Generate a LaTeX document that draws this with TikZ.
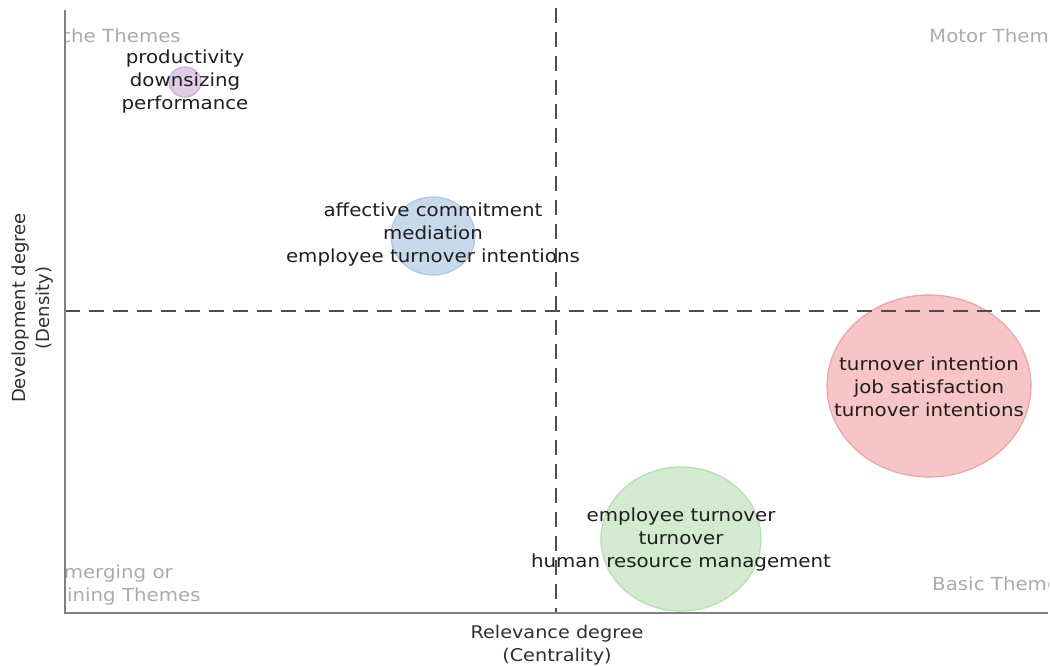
\documentclass[tikz,border=0pt]{standalone}
\usepackage{fontspec}
\setmainfont[FakeStretch=1.1]{DejaVu Sans}
\newfontfamily\upfont{DejaVu Sans}
\definecolor{axisgray}{HTML}{808080}
\definecolor{dashgray}{HTML}{4D4D4D}
\definecolor{quadgray}{HTML}{AAAAAA}
\definecolor{labeltext}{HTML}{1E1E1E}
\definecolor{axistext}{HTML}{2E2E2E}
\definecolor{purplefill}{HTML}{E1CBE7}
\definecolor{purpleline}{HTML}{D0ADDA}
\definecolor{bluefill}{HTML}{C6DAEC}
\definecolor{blueline}{HTML}{AAC8E2}
\definecolor{redfill}{HTML}{F7C5C5}
\definecolor{redline}{HTML}{EFA3A3}
\definecolor{greenfill}{HTML}{D2EBCF}
\definecolor{greenline}{HTML}{B6DDB2}
\begin{document}
\begin{tikzpicture}[x=1pt, y=-1pt,
  bubble/.style={line width=1.2pt},
  theme/.style={align=center, inner sep=0pt, text=labeltext,
    font=\fontsize{18}{23}\selectfont},
  quadrant/.style={align=center, inner sep=0pt, text=quadgray,
    font=\fontsize{18}{23}\selectfont},
  axtitle/.style={align=center, inner sep=0pt, text=axistext,
    font=\fontsize{17.5}{23}\selectfont},
  divider/.style={dashgray, line width=2pt, dash pattern=on 15pt off 9pt}]
\useasboundingbox (0,0) rectangle (1050,666);
% Quadrant names (cut at the plot edges)
\begin{scope}
\clip (65,0) rectangle (1048,666);
\node[quadrant, anchor=east] (niche) at (181,36) {Niche Themes};
\node[quadrant, anchor=west] (motor) at (929,36) {Motor Themes};
\node[quadrant] (emerging) at (112,585) {Emerging or\\Declining Themes};
\node[quadrant, anchor=west] (basic) at (932,584) {Basic Themes};
\end{scope}
% Bubbles
\filldraw[bubble, fill=purplefill, draw=purpleline] (185,82) ellipse (16 and 15);
\filldraw[bubble, fill=bluefill, draw=blueline] (433,236) ellipse (42 and 39);
\filldraw[bubble, fill=redfill, draw=redline] (929,386) ellipse (102 and 91);
\filldraw[bubble, fill=greenfill, draw=greenline] (681,539) ellipse (80 and 72);
% Quadrant dividers
\draw[divider] (556,8) -- (556,613);
\draw[divider] (65,311) -- (1048,311);
% Axes
\draw[axisgray, line width=1.5pt] (65,10) -- (65,613) -- (1048,613);
% Cluster labels
\node[theme] (prod) at (185,82) {productivity\\downsizing\\performance};
\node[theme] (affect) at (433,235) {affective commitment\\mediation\\employee turnover intentions};
\node[theme] (intent) at (929,387) {turnover intention\\job satisfaction\\turnover intentions};
\node[theme] (employ) at (681,540) {employee turnover\\turnover\\human resource management};
% Axis titles
\node[axtitle] (xtitle) at (557,645) {Relevance degree\\(Centrality)};
\node[axtitle, rotate=90, font=\upfont\fontsize{18}{24}\selectfont] (ytitle) at (33,308) {Development degree\\(Density)};
\end{tikzpicture}
\end{document}
